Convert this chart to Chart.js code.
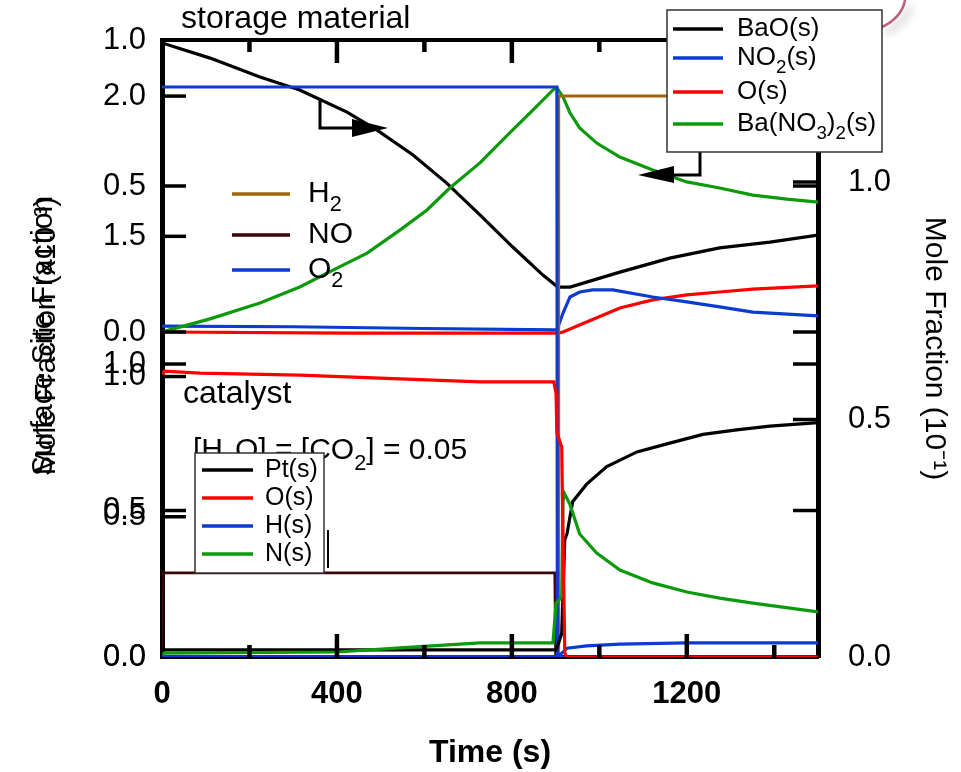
<!DOCTYPE html>
<html>
<head>
<meta charset="utf-8">
<script src="https://cdn.jsdelivr.net/npm/chart.js@4.4.0/dist/chart.umd.min.js"></script>
<style>
  html, body { margin: 0; padding: 0; background: #fff; }
</style>
</head>
<body>
<canvas id="chart" width="961" height="772"></canvas>
<script>
const FONT = '"Liberation Sans", Arial, Helvetica, sans-serif';

// axis ticks
const timeTicks = [0, 400, 800, 1200];
const timeMinorTicks = [200, 600, 1000, 1400];
const storageTicks = [0, 0.5, 1.0];
const catalystTicks = [0, 0.5, 1.0];
const gasTicks = [0, 0.5, 1.0, 1.5, 2.0];
const moleTicks = [0, 0.5, 1.0];

// storage material, surface site fraction
const baoTime = [0, 110, 224, 315, 423, 491, 574, 651, 727, 802, 871, 905, 933, 1047, 1161, 1275, 1390, 1500];
const baoFrac = [0.99, 0.938, 0.873, 0.829, 0.753, 0.692, 0.606, 0.510, 0.401, 0.291, 0.195, 0.154, 0.154, 0.205, 0.253, 0.288, 0.308, 0.332];
const no2sTime = [0, 300, 600, 899, 903, 917, 933, 955, 985, 1031, 1122, 1200, 1275, 1351, 1500];
const no2sFrac = [0.02, 0.018, 0.012, 0.007, 0.007, 0.065, 0.12, 0.137, 0.144, 0.144, 0.12, 0.103, 0.086, 0.068, 0.055];
const osTime = [0, 430, 905, 917, 971, 1047, 1122, 1200, 1275, 1351, 1500];
const osFrac = [0, -0.004, -0.004, 0, 0.034, 0.082, 0.110, 0.127, 0.137, 0.147, 0.158];
const banoTime = [0, 110, 224, 315, 391, 469, 544, 606, 658, 727, 795, 848, 894, 903, 917, 933, 955, 994, 1047, 1122, 1200, 1275, 1351, 1429, 1500];
const banoFrac = [0, 0.045, 0.099, 0.154, 0.212, 0.270, 0.349, 0.418, 0.493, 0.579, 0.682, 0.760, 0.829, 0.836, 0.805, 0.750, 0.699, 0.647, 0.599, 0.555, 0.514, 0.493, 0.469, 0.455, 0.445];

// catalyst, surface site fraction
const ptTime = [0, 3, 900, 903, 914, 921, 926, 939, 971, 1017, 1086, 1161, 1237, 1314, 1390, 1500];
const ptFrac = [0, 0.024, 0.024, 0.03, 0.08, 0.40, 0.42, 0.53, 0.59, 0.65, 0.70, 0.73, 0.76, 0.775, 0.788, 0.80];
const ocTime = [0, 5, 87, 315, 544, 727, 896, 901, 903, 914, 917, 921, 925, 1500];
const ocFrac = [0.952, 0.976, 0.969, 0.962, 0.949, 0.939, 0.939, 0.90, 0.765, 0.717, 0.40, 0.014, 0, 0];
const hcTime = [0, 905, 910, 926, 971, 1047, 1200, 1500];
const hcFrac = [0, 0, 0.007, 0.03, 0.038, 0.044, 0.048, 0.048];
const ncTime = [0, 5, 400, 544, 727, 894, 901, 914, 917, 921, 933, 955, 994, 1047, 1122, 1200, 1275, 1351, 1500];
const ncFrac = [0, 0.013, 0.017, 0.031, 0.048, 0.048, 0.184, 0.205, 0.536, 0.556, 0.52, 0.42, 0.355, 0.297, 0.253, 0.222, 0.201, 0.184, 0.154];

// gas phase mole fractions
const h2Time = [0, 906, 907, 1500];
const h2Frac = [0, 0, 2.0, 2.0];          // x10^-3
const noTime = [0, 3, 898, 900, 1500];
const noFrac = [0, 0.30, 0.30, 0, 0];      // x10^-3
const o2Time = [0, 903, 904, 1500];
const o2Frac = [1.2, 1.2, 0, 0];           // 10^-1

function pts(t, v) {
    return t.map((x, i) => ({ x: x, y: v[i] }));
}

function line(label, color, axis, t, v, width) {
    return {
        label: label,
        data: pts(t, v),
        yAxisID: axis,
        borderColor: color,
        backgroundColor: color,
        borderWidth: width || 3.2,
        pointRadius: 0,
        tension: 0,
        fill: false
    };
}

const BLACK = '#000000', BLUE = '#0b3bd0', RED = '#ff0000', GREEN = '#0c9a0c';
const BROWN = '#a0680a', DARK = '#3a0505';

const datasets = [
    line('O(s)', RED, 'yCat', ocTime, ocFrac),
    line('H(s)', BLUE, 'yCat', hcTime, hcFrac),
    line('N(s)', GREEN, 'yCat', ncTime, ncFrac),
    line('Pt(s)', BLACK, 'yCat', ptTime, ptFrac),
    line('O_2', BLUE, 'yMol', o2Time, o2Frac),
    line('H_2', BROWN, 'yGas', h2Time, h2Frac, 3),
    line('NO', DARK, 'yGas', noTime, noFrac, 2.6),
    line('Ba(NO_3)_2(s)', GREEN, 'yTop', banoTime, banoFrac),
    line('BaO(s)', BLACK, 'yTop', baoTime, baoFrac),
    line('NO_2(s)', BLUE, 'yTop', no2sTime, no2sFrac),
    line('O(s) ', RED, 'yTop', osTime, osFrac)
];

function fixedTicks(values) {
    return function (scale) {
        scale.ticks = values.map(v => ({ value: v }));
    };
}

// the overlaid panels share one plot box, so the y scales must not push it around
function sizeY(width) {
    return function (scale) {
        scale.width = width;
        scale.paddingTop = 0;
        scale.paddingBottom = 0;
    };
}

const tickFont = { family: FONT, size: 31 };
const noGrid = { display: false };

function drawRich(ctx, text, x, y, size) {
    const runs = [];
    for (let i = 0; i < text.length; i++) {
        if (text[i] === '_' && i + 1 < text.length) {
            runs.push({ s: text[i + 1], sub: true });
            i++;
        } else if (runs.length && !runs[runs.length - 1].sub) {
            runs[runs.length - 1].s += text[i];
        } else {
            runs.push({ s: text[i], sub: false });
        }
    }
    let cx = x;
    runs.forEach(r => {
        const fs = r.sub ? size * 0.72 : size;
        ctx.font = fs + 'px ' + FONT;
        ctx.fillText(r.s, cx, r.sub ? y + size * 0.36 : y);
        cx += ctx.measureText(r.s).width;
    });
}

function findSet(chart, label) {
    return chart.data.datasets.find(d => d.label === label);
}

function drawLegend(chart, labels, box, lineX1, lineX2, textX, rows, size) {
    const ctx = chart.ctx;
    if (box) {
        ctx.fillStyle = '#fff';
        ctx.fillRect(box[0], box[1], box[2] - box[0], box[3] - box[1]);
        ctx.strokeStyle = '#333';
        ctx.lineWidth = 1.5;
        ctx.strokeRect(box[0], box[1], box[2] - box[0], box[3] - box[1]);
    }
    labels.forEach((lab, i) => {
        const ds = findSet(chart, lab);
        ctx.strokeStyle = ds.borderColor;
        ctx.lineWidth = 3.5;
        ctx.beginPath();
        ctx.moveTo(lineX1, rows[i]);
        ctx.lineTo(lineX2, rows[i]);
        ctx.stroke();
        ctx.fillStyle = '#000';
        ctx.textBaseline = 'middle';
        ctx.textAlign = 'left';
        drawRich(ctx, lab.trim(), textX, rows[i], size);
    });
}

const overlayPlugin = {
    id: 'overlay',
    afterLayout(chart) {
        // stack the secondary left axes on top of the main one
        const main = chart.scales.yGas;
        ['yTop', 'yCat'].forEach(id => {
            chart.scales[id].left = main.left;
            chart.scales[id].right = main.right;
        });
    },
    afterDraw(chart) {
        const ctx = chart.ctx;
        const area = chart.chartArea;
        const s = chart.scales;
        ctx.save();
        ctx.strokeStyle = '#000';
        ctx.lineCap = 'butt';

        function mark(x1, y1, x2, y2, w) {
            ctx.lineWidth = w;
            ctx.beginPath();
            ctx.moveTo(x1, y1);
            ctx.lineTo(x2, y2);
            ctx.stroke();
        }

        // top frame
        mark(area.left, area.top, area.right, area.top, 4);

        // inward ticks on time axis, bottom and top
        timeTicks.slice(1).forEach(v => {
            const px = s.x.getPixelForValue(v);
            mark(px, area.bottom, px, area.bottom - 23, 4.5);
            mark(px, area.top, px, area.top + 23, 4.5);
        });
        timeMinorTicks.forEach(v => {
            const px = s.x.getPixelForValue(v);
            mark(px, area.bottom, px, area.bottom - 12, 4.5);
            mark(px, area.top, px, area.top + 12, 4.5);
        });

        // inward ticks on left and right
        const leftTicks = [['yTop', [0, 0.5]], ['yGas', [0.5, 1.0, 1.5, 2.0]], ['yCat', [0.5, 1.0]]];
        leftTicks.forEach(([id, vals]) => vals.forEach(v => {
            const py = s[id].getPixelForValue(v);
            mark(area.left, py, area.left + 24, py, 3.5);
        }));
        const rightTicks = [['yTop', [0, 0.5]], ['yCat', [0.5, 1.0]], ['yMol', [0.5, 1.0]]];
        rightTicks.forEach(([id, vals]) => vals.forEach(v => {
            const py = s[id].getPixelForValue(v);
            mark(area.right, py, area.right - 25, py, 3.5);
        }));

        // arrows pointing to the axes
        ctx.lineWidth = 3;
        ctx.lineJoin = 'miter';
        ctx.beginPath();
        ctx.moveTo(320, 98);
        ctx.lineTo(320, 128);
        ctx.lineTo(360, 128);
        ctx.stroke();
        ctx.fillStyle = '#000';
        ctx.beginPath();
        ctx.moveTo(352, 119);
        ctx.lineTo(388, 128);
        ctx.lineTo(352, 137);
        ctx.closePath();
        ctx.fill();

        ctx.beginPath();
        ctx.moveTo(700, 150);
        ctx.lineTo(700, 175);
        ctx.lineTo(665, 175);
        ctx.stroke();
        ctx.beginPath();
        ctx.moveTo(674, 166);
        ctx.lineTo(638, 175);
        ctx.lineTo(674, 183);
        ctx.closePath();
        ctx.fill();

        // stray bar left of the catalyst legend
        mark(328, 530, 328, 568, 2);

        // panel texts
        ctx.fillStyle = '#000';
        ctx.textAlign = 'left';
        ctx.textBaseline = 'alphabetic';
        ctx.font = '32px ' + FONT;
        ctx.fillText('storage material', 181, 28);
        ctx.fillText('catalyst', 183, 403);
        drawRich(ctx, '[H_2O] = [CO_2] = 0.05', 193, 459, 30);

        // pink ribbon in the corner
        ctx.save();
        ctx.shadowColor = 'rgba(0,0,0,0.35)';
        ctx.shadowBlur = 9;
        ctx.shadowOffsetX = 5;
        ctx.shadowOffsetY = 5;
        ctx.strokeStyle = '#c25a7a';
        ctx.lineWidth = 2.5;
        ctx.beginPath();
        ctx.moveTo(905, 0);
        ctx.quadraticCurveTo(902, 18, 880, 28);
        ctx.stroke();
        ctx.restore();

        // legends
        drawLegend(chart, ['BaO(s)', 'NO_2(s)', 'O(s) ', 'Ba(NO_3)_2(s)'],
            [667, 10, 882, 152], 673, 723, 737, [29, 58, 92, 124], 26);
        drawLegend(chart, ['Pt(s)', 'O(s)', 'H(s)', 'N(s)'],
            [195, 453, 324, 573], 202, 253, 265, [470, 498, 526, 554], 25);
        drawLegend(chart, ['H_2', 'NO', 'O_2'],
            null, 232, 290, 308, [194, 235, 270], 30);

        ctx.restore();
    }
};

new Chart(document.getElementById('chart'), {
    type: 'line',
    data: { datasets: datasets },
    plugins: [overlayPlugin],
    options: {
        responsive: false,
        animation: false,
        events: [],
        layout: { padding: { top: 40, left: 0, right: 0, bottom: 0 } },
        plugins: {
            legend: { display: false },
            tooltip: { enabled: false }
        },
        scales: {
            x: {
                type: 'linear',
                position: 'bottom',
                min: 0,
                max: 1500,
                afterBuildTicks: fixedTicks(timeTicks),
                ticks: {
                    font: { family: FONT, size: 31, weight: 'bold' },
                    color: '#000',
                    padding: 11,
                    autoSkip: false,
                    maxRotation: 0,
                    callback: v => String(v)
                },
                grid: noGrid,
                border: { display: true, color: '#000', width: 4 },
                title: {
                    display: true,
                    text: 'Time (s)',
                    color: '#000',
                    font: { family: FONT, size: 32, weight: 'bold' },
                    padding: { top: 0, bottom: 0 }
                },
                afterFit: scale => {
                    scale.height = 115;
                    scale.paddingLeft = 0;
                    scale.paddingRight = 0;
                }
            },
            yGas: {
                type: 'linear',
                position: 'left',
                weight: 10,
                min: 0,
                max: 2.2,
                afterBuildTicks: fixedTicks(gasTicks),
                ticks: { font: tickFont, color: '#000', padding: 8, autoSkip: false, callback: v => v.toFixed(1) },
                grid: noGrid,
                border: { display: true, color: '#000', width: 5 },
                title: {
                    display: true,
                    text: '   Mole Fraction (x10⁻³)',
                    color: '#000',
                    font: { family: FONT, size: 30 },
                    padding: { top: 29, bottom: 0 }
                },
                afterFit: sizeY(162)
            },
            yTop: {
                type: 'linear',
                position: 'left',
                weight: 0,
                min: -1.113,
                max: 1.0,
                afterBuildTicks: fixedTicks(storageTicks),
                ticks: { font: tickFont, color: '#000', padding: 8, autoSkip: false, callback: v => v.toFixed(1) },
                grid: noGrid,
                border: { display: false },
                title: {
                    display: true,
                    text: '   Surface Site Fraction',
                    color: '#000',
                    font: { family: FONT, size: 30 },
                    padding: { top: 26, bottom: 0 }
                },
                afterFit: sizeY(0)
            },
            yCat: {
                type: 'linear',
                position: 'left',
                weight: 0,
                min: 0,
                max: 2.106,
                afterBuildTicks: fixedTicks(catalystTicks),
                ticks: { font: tickFont, color: '#000', padding: 8, autoSkip: false, callback: v => v.toFixed(1) },
                grid: noGrid,
                border: { display: false },
                afterFit: sizeY(0)
            },
            yMol: {
                type: 'linear',
                position: 'right',
                min: 0,
                max: 1.299,
                afterBuildTicks: fixedTicks(moleTicks),
                ticks: { font: tickFont, color: '#000', padding: 22, autoSkip: false, callback: v => v.toFixed(1) },
                grid: noGrid,
                border: { display: true, color: '#000', width: 5 },
                title: {
                    display: true,
                    text: 'Mole Fraction (10⁻¹)',
                    color: '#000',
                    font: { family: FONT, size: 30 },
                    padding: { top: 9, bottom: 0 }
                },
                afterFit: sizeY(143)
            }
        }
    }
});
</script>
</body>
</html>
